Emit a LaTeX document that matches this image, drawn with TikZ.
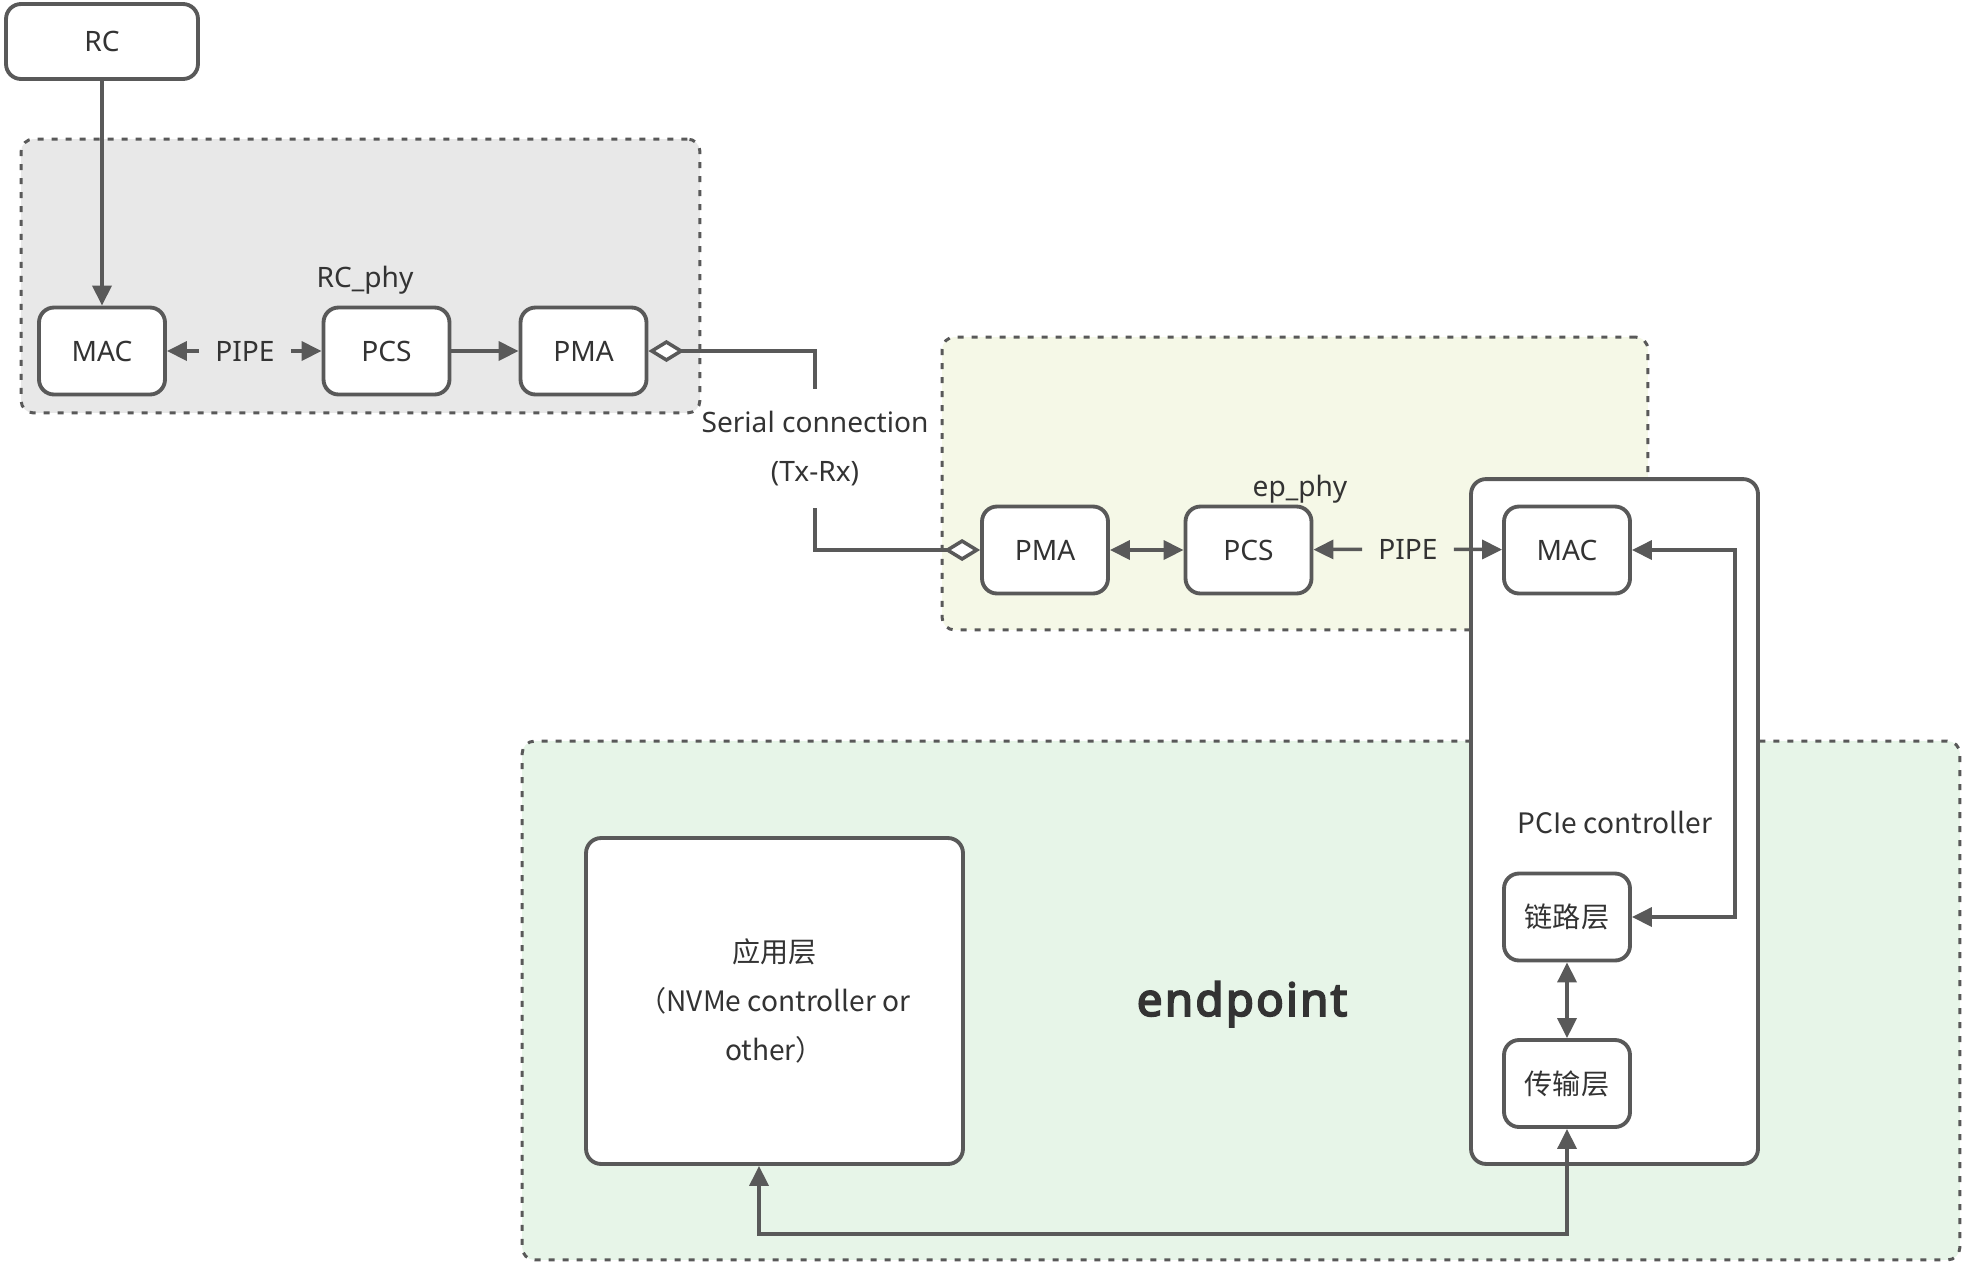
\documentclass[tikz,border=0pt]{standalone}
\usepackage{fontspec}
\setmainfont{Noto Sans}
\newfontfamily\cjk{Noto Sans CJK SC}
\newfontfamily\heavy{Noto Sans}[FakeBold=4, LetterSpace=5]
\usetikzlibrary{arrows.meta, positioning}

\definecolor{linegray}{HTML}{595959}
\definecolor{txt}{HTML}{333333}
\definecolor{rcfill}{HTML}{E8E8E8}
\definecolor{epfill}{HTML}{F5F8E7}
\definecolor{endfill}{HTML}{E7F5E8}

\begin{document}
\begin{tikzpicture}[x=0.02cm, y=-0.02cm,
      >={Triangle[length=0.4cm, width=0.38cm]},
      dia/.tip={Diamond[fill=white, length=0.72cm, width=0.44cm]},
      font=\fontsize{16}{19}\selectfont,
      blk/.style={draw=linegray, line width=2.2pt, rounded corners=0.3cm, fill=white,
                  minimum width=2.52cm, minimum height=1.74cm, text=txt, inner sep=2pt},
      grp/.style={draw=linegray, line width=1.7pt, dash pattern=on 0.12cm off 0.16cm,
                  rounded corners=0.25cm, inner sep=0pt},
      lbl/.style={text=txt, inner sep=0pt},
      cjkf/.style={font=\cjk\fontsize{16}{19}\selectfont},
      link/.style={draw=linegray, line width=2pt}]

    % page size = reference size (1 unit = 1 px)
    \useasboundingbox (0,0) rectangle (1967,1265);

    % ======= GROUPS (drawn first so they sit behind) =======
    \node[grp, fill=rcfill, minimum width=13.58cm, minimum height=5.48cm] (rcphy) at (360.5, 276) {};
    \node[grp, fill=epfill, minimum width=14.12cm, minimum height=5.86cm] (epphy) at (1295, 483.5) {};
    \node[grp, fill=endfill, minimum width=28.76cm, minimum height=10.38cm] (endpt) at (1241, 1000.5) {};

    % --- RC side ---
    \node[blk, minimum width=3.84cm, minimum height=1.5cm] (rc) at (102, 41.5) {RC};
    \node[blk] (mac1) at (102, 351) {MAC};
    \node[blk] (pcs1) at (386.5, 351) {PCS};
    \node[blk] (pma1) at (583.5, 351) {PMA};
    \node[lbl] (rcphylbl) at (365, 280) {RC\_phy};
    \node[lbl, inner xsep=0.32cm] (pipe1) at (245, 351) {PIPE};

    % --- serial link between the two PHYs ---
    \node[lbl, align=center, minimum height=2.38cm] (serial) at (815, 448.5)
        {Serial connection\\[9pt](Tx-Rx)};

    % --- endpoint PHY ---
    \node[blk] (pma2) at (1045, 550) {PMA};
    \node[blk] (pcs2) at (1248.5, 550) {PCS};
    \node[lbl, inner xsep=0.32cm] (pipe2) at (1408, 549) {PIPE};
    \node[lbl] (epphylbl) at (1300, 489) {ep\_phy};

    % --- PCIe controller (covers the group borders) ---
    \node[blk, minimum width=5.74cm, minimum height=13.7cm] (ctrl) at (1614.5, 821.5) {};
    \node[lbl, cjkf] (ctrllbl) at (1615, 822) {PCIe controller};
    \node[blk] (mac2) at (1567, 550) {MAC};
    \node[blk, cjkf] (link) at (1567, 917) {链路层};
    \node[blk, cjkf] (trans) at (1567, 1083.5) {传输层};

    % --- application layer ---
    \node[blk, cjkf, align=center, minimum width=7.54cm, minimum height=6.52cm] (app) at (774.5, 1001)
        {应用层\\[9pt]（NVMe controller or\\[9pt]other）};
    \node[lbl, font=\heavy\fontsize{26}{30}\selectfont] (eplbl) at (1242, 1004) {endpoint};

    % ======= CONNECTORS =======
    \draw[link, ->] (rc) -- (mac1);
    \draw[link, ->] (pipe1) -- (mac1);
    \draw[link, ->] (pipe1) -- (pcs1);
    \draw[link, ->] (pcs1) -- (pma1);

    % serial Tx-Rx line, broken round its label
    \draw[link, dia-] (pma1.east) -| (serial.north);
    \draw[link, -dia] (serial.south) |- (pma2.west);

    \draw[link, <->] (pma2) -- (pcs2);
    \draw[link, ->] (pipe2) -- (pcs2);
    \draw[link, ->] (pipe2) -- (mac2);

    % controller internals
    \draw[link, <->] (mac2.east) -- ++(103,0) |- (link.east);
    \draw[link, <->] (link) -- (trans);
    \draw[link, <->] (trans.south) -- ++(0,105) -| ([xshift=-0.31cm]app.south);

\end{tikzpicture}
\end{document}
